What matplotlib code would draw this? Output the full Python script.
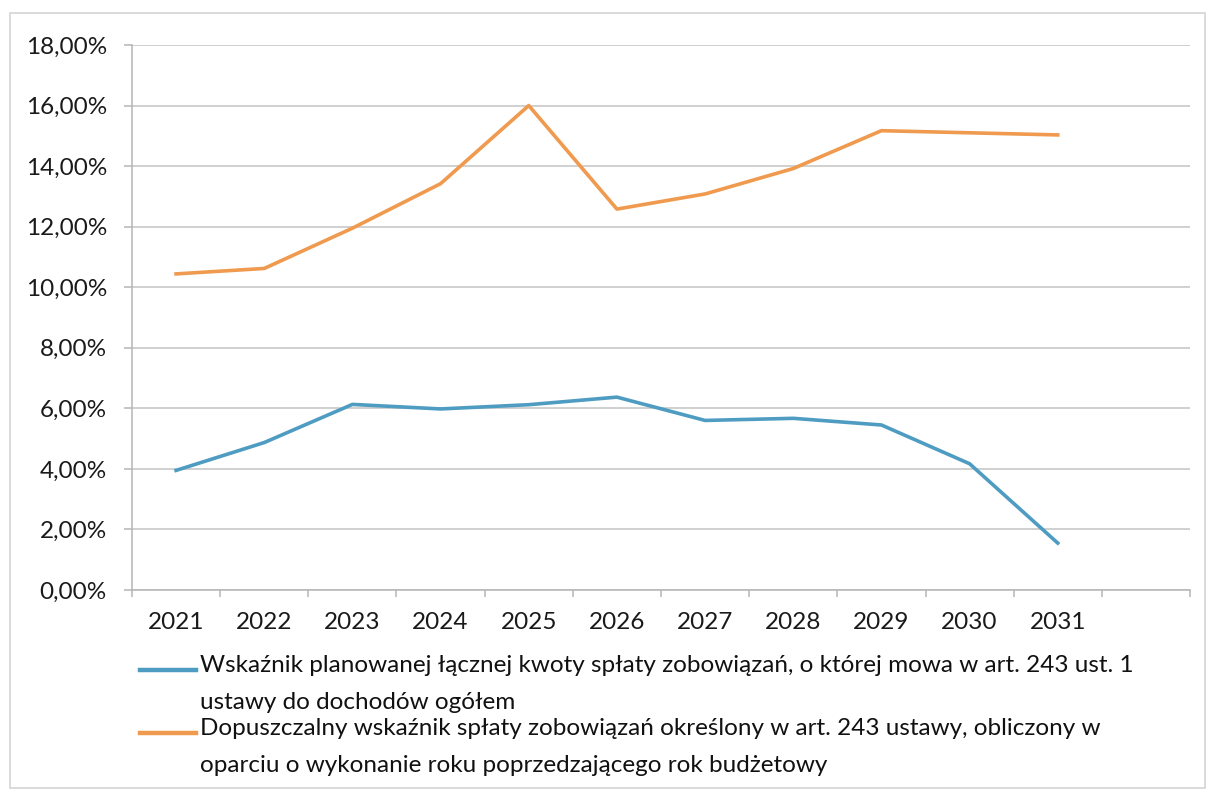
import matplotlib
matplotlib.use("Agg")
import matplotlib.pyplot as plt
from matplotlib.lines import Line2D
from matplotlib.patches import Rectangle
from matplotlib.ticker import FuncFormatter, FixedLocator

plt.rcParams['font.family'] = ['Lato', 'DejaVu Sans']

# data (fractions)
years = ['2021', '2022', '2023', '2024', '2025', '2026', '2027', '2028', '2029', '2030', '2031']
planned = [0.0395, 0.0487, 0.0613, 0.0598, 0.0612, 0.0637, 0.0560, 0.0567, 0.0545, 0.0417, 0.0155]
allowed = [0.1044, 0.1062, 0.1195, 0.1342, 0.1600, 0.1258, 0.1308, 0.1392, 0.1517, 0.1510, 0.1503]
labels = [
    'Wskaźnik planowanej łącznej kwoty spłaty zobowiązań, o której mowa w art. 243 ust. 1\nustawy do dochodów ogółem',
    'Dopuszczalny wskaźnik spłaty zobowiązań określony w art. 243 ustawy, obliczony w\noparciu o wykonanie roku poprzedzającego rok budżetowy',
]
colors = ['#4f9cc2', '#ef9a4e']

W, H = 1212, 796
fig = plt.figure(figsize=(W / 100, H / 100), dpi=100)
ax = fig.add_axes([132 / W, 1 - 590 / H, (1190 - 132) / W, (590 - 45) / H])

x = list(range(len(years)))
ax.plot(x, planned, color=colors[0], lw=2.6, solid_joinstyle='round')
ax.plot(x, allowed, color=colors[1], lw=2.6, solid_joinstyle='round')

ax.set_xlim(-0.5, len(years) + 0.5)  # one empty slot after 2031, as in the original
ax.set_ylim(0, 0.18)
ax.set_yticks([i * 0.02 for i in range(10)])
ax.yaxis.set_major_formatter(FuncFormatter(lambda v, p: '{:.2f}%'.format(v * 100).replace('.', ',')))
ax.set_xticks(x)
ax.set_xticklabels(years)
ax.xaxis.set_minor_locator(FixedLocator([i - 0.5 for i in range(len(years) + 2)]))

gray = '#b5b5b5'
ax.grid(axis='y', color='#c4c4c4', lw=1.1)
ax.set_axisbelow(True)
for s in ['top', 'right']:
    ax.spines[s].set_visible(False)
for s in ['left', 'bottom']:
    ax.spines[s].set_color(gray)
    ax.spines[s].set_linewidth(1.1)

ax.tick_params(axis='y', length=6, color=gray, width=1.1, pad=12, labelsize=17.5, labelcolor='#1a1a1a')
ax.tick_params(axis='x', which='major', length=0, pad=16, labelsize=17.5, labelcolor='#1a1a1a')
ax.tick_params(axis='x', which='minor', length=5, color=gray, width=1.1)

# legend below the plot, handle level with the first text line
entry_y = [670, 733]
for lab, col, yy in zip(labels, colors, entry_y):
    fig.add_artist(Line2D([140 / W, 196 / W], [1 - yy / H, 1 - yy / H], color=col, lw=3.2))
    fig.text(200 / W, 1 - (yy - 15) / H, lab, fontsize=17.5, va='top', ha='left',
             linespacing=1.95, color='#111111')

# light frame of the chart area
fig.add_artist(Rectangle((10 / W, 8 / H), 1195 / W, 775 / H, transform=fig.transFigure,
                         fill=False, edgecolor='#d4d4d4', lw=1.2))

fig.savefig('out.png', dpi=100)
